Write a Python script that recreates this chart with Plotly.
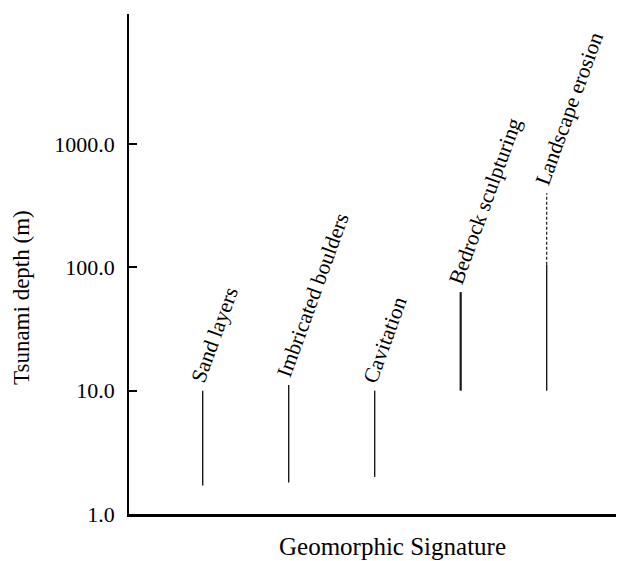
import math
import plotly.graph_objects as go

# ---- data ----
categories = ["Sand layers", "Imbricated boulders", "Cavitation",
              "Bedrock sculpturing", "Landscape erosion"]
depth_min = [1.7, 1.8, 2.0, 10.0, 10.0]
depth_max = [10.0, 11.1, 10.0, 63.0, 105.0]
depth_ext = [None, None, None, None, 400.0]   # dashed (uncertain) extension
tick_vals = [1, 10, 100, 1000]
tick_text = ["1.0", "10.0", "100.0", "1000.0"]

FONT = "Liberation Serif, Times New Roman, serif"
line_widths = [1.4, 1.4, 1.4, 2.2, 1.4]

fig = go.Figure()
for i, cat in enumerate(categories):
    fig.add_trace(go.Scatter(
        x=[cat, cat], y=[depth_min[i], depth_max[i]], mode="lines",
        line=dict(color="#1a1a1a", width=line_widths[i]),
        showlegend=False, hoverinfo="skip"))
    if depth_ext[i] is not None:
        fig.add_trace(go.Scatter(
            x=[cat, cat], y=[depth_max[i], depth_ext[i]], mode="lines",
            line=dict(color="#1a1a1a", width=1.2, dash="3px,2px"),
            showlegend=False, hoverinfo="skip"))
    top = depth_ext[i] if depth_ext[i] is not None else depth_max[i]
    fig.add_annotation(
        x=cat, y=math.log10(top), yref="y", xref="x", text=cat,
        showarrow=False, textangle=-70, xanchor="left", yanchor="bottom",
        xshift=-19, yshift=2,
        font=dict(family=FONT, size=21.5, color="black"))

L, R, T, B = 129, 1, 14, 47
W, H = 617, 561
pw = W - L - R
ph = H - T - B

fig.add_annotation(
    xref="paper", yref="paper", x=(21 - L) / pw, y=(H - B - 298) / ph,
    text="Tsunami depth (m)", textangle=-90, showarrow=False,
    xanchor="center", yanchor="middle",
    font=dict(family=FONT, size=23, color="black"))
fig.add_annotation(
    xref="paper", yref="paper", x=(392 - L) / pw, y=(H - B - 546) / ph,
    text="Geomorphic Signature", showarrow=False,
    xanchor="center", yanchor="middle",
    font=dict(family=FONT, size=25, color="black"))

fig.update_layout(
    width=W, height=H,
    margin=dict(l=L, r=R, t=T, b=B, pad=0),
    paper_bgcolor="white", plot_bgcolor="white",
    showlegend=False,
    xaxis=dict(
        type="category", categoryorder="array", categoryarray=categories,
        range=[-0.857, 4.806], showticklabels=False, ticks="",
        showgrid=False, zeroline=False, showline=True,
        linecolor="black", linewidth=2.5),
    yaxis=dict(
        type="log", range=[0, 4.055], tickvals=tick_vals, ticktext=tick_text,
        ticks="inside", ticklen=8, tickwidth=1.5, tickcolor="black",
        ticklabelstandoff=8,
        tickfont=dict(family=FONT, size=22, color="black"),
        showgrid=False, zeroline=False, showline=True,
        linecolor="black", linewidth=1.5),
)

fig.write_html(
    "out.html",
    config={"displayModeBar": False},
    post_script="document.body.style.margin='0';"
                "document.body.style.overflow='hidden';")
